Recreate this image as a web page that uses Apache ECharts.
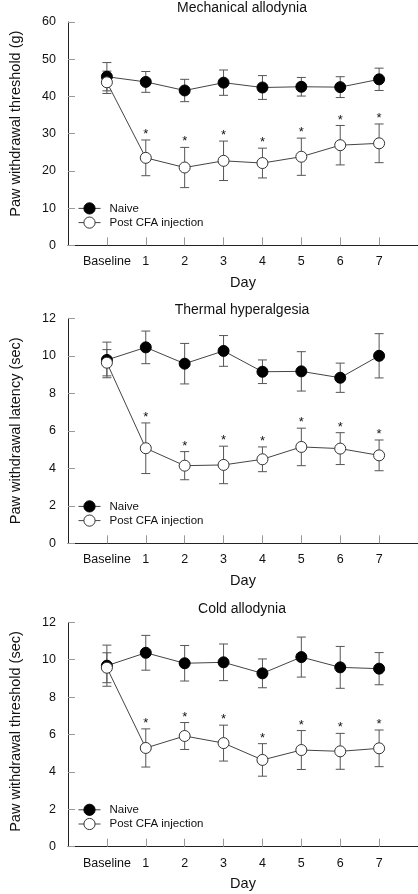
<!DOCTYPE html>
<html><head><meta charset="utf-8">
<script src="https://cdn.jsdelivr.net/npm/echarts@6/dist/echarts.min.js"></script>
<style>html,body{margin:0;padding:0;background:#fff}#c{width:418px;height:894px}</style>
</head><body><div id="c"></div>
<script>
// ---- data ----
const categories = ['Baseline', '1', '2', '3', '4', '5', '6', '7'];
const seriesNames = ['Naive', 'Post CFA injection'];
const significant = [false, true, true, true, true, true, true, true];

const mechNaive    = [45.3, 43.9, 41.6, 43.7, 42.4, 42.6, 42.5, 44.6];
const mechNaiveErr = [3.8, 2.8, 3.0, 3.4, 3.2, 2.5, 2.8, 3.0];
const mechCFA      = [43.8, 23.5, 20.9, 22.7, 22.1, 23.8, 26.9, 27.4];
const mechCFAErr   = [3.0, 4.8, 5.4, 5.3, 4.0, 5.0, 5.3, 5.2];

const thermNaive    = [9.78, 10.45, 9.58, 10.26, 9.15, 9.17, 8.83, 10.0];
const thermNaiveErr = [0.95, 0.87, 1.08, 0.82, 0.63, 1.05, 0.78, 1.18];
const thermCFA      = [9.63, 5.07, 4.14, 4.18, 4.48, 5.14, 5.05, 4.69];
const thermCFAErr   = [0.7, 1.35, 0.75, 1.0, 0.66, 1.0, 0.85, 0.82];

const coldNaive    = [9.68, 10.37, 9.81, 9.86, 9.27, 10.14, 9.59, 9.52];
const coldNaiveErr = [1.1, 0.93, 0.95, 0.98, 0.77, 1.07, 1.12, 0.86];
const coldCFA      = [9.57, 5.28, 5.92, 5.54, 4.64, 5.17, 5.10, 5.26];
const coldCFAErr   = [0.8, 1.02, 0.72, 0.96, 0.87, 1.04, 0.96, 0.98];

const titles = ['Mechanical allodynia', 'Thermal hyperalgesia', 'Cold allodynia'];
const yNames = ['Paw withdrawal threshold (g)', 'Paw withdrawal latency (sec)', 'Paw withdrawal threshold (sec)'];
const yMaxes = [60, 12, 12];
const yIntervals = [10, 2, 2];
const xName = 'Day';

// ---- layout ----
const FONT = "'Liberation Sans', Arial, sans-serif";
const gridTops = [22, 318.3, 622.3];
const gridHeights = [223.3, 225, 224.4];
const titleTops = [1, 303, 602];
const yNameShift = [20, 0, 6];

const panels = [
  {naive: mechNaive, naiveErr: mechNaiveErr, cfa: mechCFA, cfaErr: mechCFAErr},
  {naive: thermNaive, naiveErr: thermNaiveErr, cfa: thermCFA, cfaErr: thermCFAErr},
  {naive: coldNaive, naiveErr: coldNaiveErr, cfa: coldCFA, cfaErr: coldCFAErr}
];

const idx = categories.map((c, i) => i);

function errSeries(p, means, errs, stars) {
  return {
    type: 'custom', xAxisIndex: p, yAxisIndex: p, silent: true, z: 1,
    data: means.map((m, k) => [k, m, errs[k], stars && significant[k] ? 1 : 0]),
    encode: {x: 0, y: 1},
    renderItem: function (params, api) {
      const x = api.value(0), m = api.value(1), e = api.value(2);
      const top = api.coord([x, m + e]);
      const bot = api.coord([x, m - e]);
      const w = 4.5;
      const st = {stroke: '#555', lineWidth: 1};
      const ch = [
        {type: 'line', shape: {x1: top[0], y1: top[1], x2: bot[0], y2: bot[1]}, style: st},
        {type: 'line', shape: {x1: top[0] - w, y1: top[1], x2: top[0] + w, y2: top[1]}, style: st},
        {type: 'line', shape: {x1: bot[0] - w, y1: bot[1], x2: bot[0] + w, y2: bot[1]}, style: st}
      ];
      if (api.value(3)) {
        ch.push({type: 'text', style: {text: '*', x: top[0], y: top[1] + 1, align: 'center',
          verticalAlign: 'bottom', fontSize: 13, fontFamily: FONT, fill: '#111'}});
      }
      return {type: 'group', children: ch};
    }
  };
}

const option = {
  animation: false,
  backgroundColor: '#fff',
  title: [], grid: [], xAxis: [], yAxis: [], legend: [], series: []
};

panels.forEach((pd, p) => {
  option.title.push({
    text: titles[p], left: 242, top: titleTops[p], textAlign: 'center', padding: 0,
    textStyle: {fontFamily: FONT, fontSize: 14, fontWeight: 'normal', color: '#111'}
  });
  option.grid.push({left: 61, right: 0, top: gridTops[p], height: gridHeights[p]});
  option.xAxis.push({
    gridIndex: p, type: 'value', min: -1, max: categories.length, interval: 1,
    name: xName, nameLocation: 'middle', nameGap: 30,
    nameTextStyle: {fontFamily: FONT, fontSize: 14.5, color: '#111'},
    axisLine: {show: true, onZero: false, lineStyle: {color: '#222', width: 1}},
    axisTick: {show: true, inside: true, length: 8, customValues: idx, lineStyle: {color: '#999'}},
    axisLabel: {customValues: idx, formatter: v => categories[v] ?? '', margin: 10,
      fontFamily: FONT, fontSize: 12.5, color: '#111'},
    splitLine: {show: false}
  });
  option.yAxis.push({
    gridIndex: p, type: 'value', min: 0, max: yMaxes[p], interval: yIntervals[p],
    name: yNames[p], nameLocation: 'middle', nameGap: 45,
    nameTextStyle: {fontFamily: FONT, fontSize: 14.5, color: '#111',
      padding: [0, 0, 0, yNameShift[p]]},
    axisLine: {show: true, onZero: false, lineStyle: {color: '#222', width: 1}},
    axisTick: {show: true, inside: true, length: 7, lineStyle: {color: '#999'}},
    axisLabel: {margin: 12, fontFamily: FONT, fontSize: 12.5, color: '#111'},
    splitLine: {show: false}
  });
  option.legend.push({
    data: seriesNames, orient: 'vertical', left: 78,
    top: gridTops[p] + gridHeights[p] - 36 - 7, padding: 0,
    itemWidth: 22, itemHeight: 14, itemGap: 2, selectedMode: false,
    itemStyle: {borderWidth: 1},
    lineStyle: {width: 1},
    textStyle: {fontFamily: FONT, fontSize: 11.5, color: '#111', padding: [0, 0, 0, 4]}
  });
  option.series.push(errSeries(p, pd.naive, pd.naiveErr, false));
  option.series.push(errSeries(p, pd.cfa, pd.cfaErr, true));
  option.series.push({
    type: 'line', name: seriesNames[0], xAxisIndex: p, yAxisIndex: p, z: 3,
    data: pd.naive.map((v, k) => [k, v]),
    symbol: 'circle', symbolSize: 11,
    itemStyle: {color: '#000', borderColor: '#000', borderWidth: 1},
    lineStyle: {color: '#444', width: 1}
  });
  option.series.push({
    type: 'line', name: seriesNames[1], xAxisIndex: p, yAxisIndex: p, z: 4,
    data: pd.cfa.map((v, k) => [k, v]),
    symbol: 'circle', symbolSize: 11, showAllSymbol: true,
    itemStyle: {color: '#fff', borderColor: '#333', borderWidth: 1},
    lineStyle: {color: '#444', width: 1}
  });
});

const chart = echarts.init(document.getElementById('c'), null, {renderer: 'canvas'});
chart.setOption(option);
</script>
</body></html>
